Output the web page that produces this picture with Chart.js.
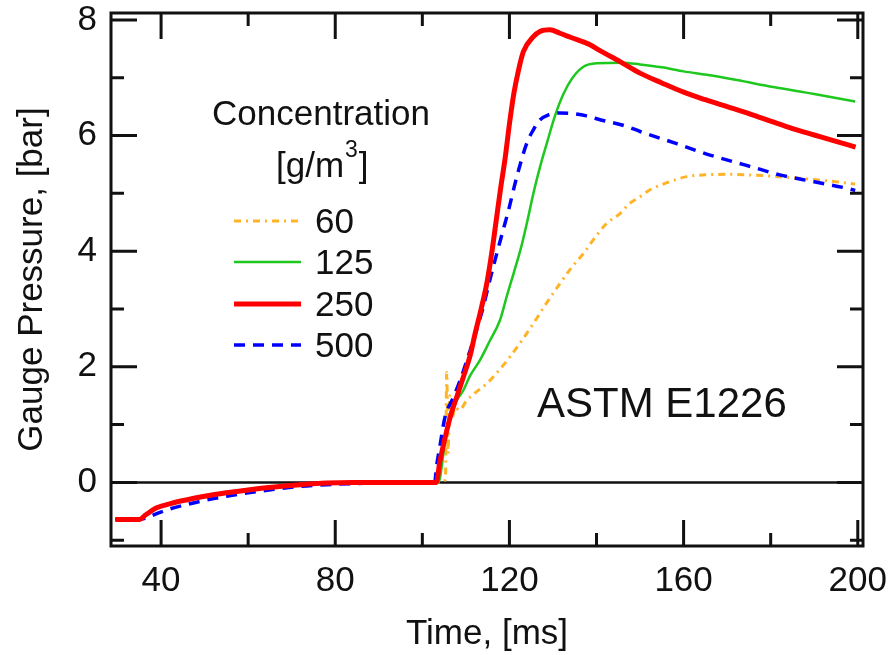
<!DOCTYPE html>
<html>
<head>
<meta charset="utf-8">
<script src="https://cdn.jsdelivr.net/npm/chart.js@4.4.1/dist/chart.umd.min.js"></script>
<style>
  html, body { margin: 0; padding: 0; background: #fff; }
</style>
</head>
<body>
<canvas id="myChart" width="890" height="655"></canvas>
<script>
// concentration labels, g/m3
const seriesNames = ["60", "125", "250", "500"];

// time [ms] and gauge pressure [bar]
const time60 = [29.5, 35, 36.5, 39, 42, 46, 50, 55, 60, 66, 72, 78, 84, 90, 96, 104, 105.3, 105.6, 105.9, 106.3, 106.8, 107.5, 108.5, 110.2, 112.5, 114.8, 117.5, 120.1, 122.8, 125.5, 128.5, 131.6, 134.3, 137, 139.5, 142.3, 145.4, 147.5, 150, 152, 154.6, 157.5, 160.7, 165, 170.7, 175, 179.9, 185, 189.8, 195, 199.4];
const press60 = [-0.63, -0.63, -0.55, -0.43, -0.36, -0.29, -0.23, -0.17, -0.12, -0.07, -0.03, -0.01, 0, 0, 0, 0, 0.05, 1.9, 0.5, 1.5, 1.1, 1.3, 1.25, 1.42, 1.57, 1.71, 1.93, 2.17, 2.45, 2.75, 3.1, 3.44, 3.72, 3.96, 4.22, 4.48, 4.65, 4.82, 4.94, 5.05, 5.14, 5.22, 5.29, 5.32, 5.33, 5.32, 5.3, 5.27, 5.24, 5.2, 5.16];

const time125 = [29.5, 35, 36.5, 39, 42, 46, 50, 55, 60, 66, 72, 78, 84, 90, 96, 103.8, 104.5, 105.5, 107, 109.4, 111, 113.2, 115.5, 117.8, 119.5, 120.9, 122.8, 124.2, 125.5, 127, 128.6, 130.5, 132.4, 134.5, 137, 140, 146, 150, 155, 160, 165.3, 172.2, 180.6, 190, 199.4];
const press125 = [-0.63, -0.63, -0.55, -0.43, -0.36, -0.29, -0.23, -0.17, -0.12, -0.07, -0.03, -0.01, 0, 0, 0, 0, 0.3, 0.9, 1.3, 1.59, 1.85, 2.11, 2.45, 2.8, 3.25, 3.6, 4.1, 4.55, 5.0, 5.45, 5.87, 6.35, 6.72, 7.0, 7.19, 7.25, 7.26, 7.23, 7.18, 7.11, 7.05, 6.96, 6.84, 6.72, 6.59];

const time250 = [29.5, 35, 36.5, 39, 42, 46, 50, 55, 60, 66, 72, 78, 84, 90, 96, 103.2, 104, 105, 106.4, 108, 109.4, 111, 112.1, 113.5, 114.8, 116, 117, 118, 119, 120, 121, 122, 123.2, 125.5, 127, 129.3, 131.6, 134, 138.5, 141, 145.4, 150, 155, 160, 165, 170, 175, 180, 185, 190, 195, 199.5];
const press250 = [-0.64, -0.64, -0.56, -0.44, -0.37, -0.3, -0.24, -0.18, -0.13, -0.08, -0.04, -0.01, 0, 0, 0, 0, 0.35, 0.7, 1.13, 1.5, 1.82, 2.2, 2.57, 3.0, 3.44, 4.0, 4.55, 5.1, 5.6, 6.2, 6.72, 7.1, 7.45, 7.71, 7.8, 7.83, 7.77, 7.7, 7.57, 7.46, 7.28, 7.08, 6.91, 6.75, 6.62, 6.5, 6.38, 6.25, 6.12, 6.01, 5.9, 5.8];

const time500 = [29.5, 35, 36.5, 39, 42, 46, 50, 55, 60, 66, 72, 78, 84, 90, 96, 102.8, 103.3, 104, 105.2, 107, 108.7, 111, 112.5, 114, 115.5, 117.1, 118.5, 119.8, 121.7, 124, 125.5, 127, 129, 131.6, 134.5, 137.7, 141, 146.9, 150, 158.4, 165.3, 169.9, 176, 182.1, 190, 197.4, 199.4];
const press500 = [-0.64, -0.64, -0.62, -0.54, -0.46, -0.38, -0.31, -0.24, -0.18, -0.12, -0.07, -0.04, -0.02, -0.01, -0.01, -0.01, 0.3, 0.61, 1.13, 1.45, 1.77, 2.29, 2.65, 3.04, 3.5, 3.96, 4.35, 4.71, 5.29, 5.87, 6.1, 6.27, 6.36, 6.39, 6.38, 6.34, 6.27, 6.16, 6.07, 5.86, 5.68, 5.58, 5.45, 5.32, 5.2, 5.09, 5.05];

// axis ticks
const xMajorTicks = [40, 80, 120, 160, 200];
const xMinorTicks = [60, 100, 140, 180];
const yMajorTicks = [0, 2, 4, 6, 8];
const yMinorTicks = [-1, 1, 3, 5, 7];

const FONT = "'Liberation Sans', Arial, sans-serif";
const INK = "#111";

const toPoints = (xs, ys) => xs.map((x, i) => ({ x: x, y: ys[i] }));

// drop the extra room Chart.js keeps for edge labels, the layout padding sets the plot box
const noEdgePadding = (scale) => {
    scale.paddingLeft = 0;
    scale.paddingRight = 0;
    scale.paddingTop = 0;
    scale.paddingBottom = 0;
};

// frame, inward ticks and the zero line
const framePlugin = {
    id: "frame",
    beforeDatasetsDraw(chart) {
        const { ctx, chartArea, scales } = chart;
        const y0 = scales.y.getPixelForValue(0);
        ctx.save();
        ctx.strokeStyle = INK;
        ctx.lineWidth = 2.5;
        ctx.beginPath();
        ctx.moveTo(chartArea.left, y0);
        ctx.lineTo(chartArea.right, y0);
        ctx.stroke();
        ctx.restore();
    },
    afterDatasetsDraw(chart) {
        const { ctx, chartArea, scales } = chart;
        const { left, right, top, bottom } = chartArea;
        ctx.save();
        ctx.strokeStyle = INK;
        ctx.lineWidth = 3;
        ctx.strokeRect(left, top, right - left, bottom - top);

        const tick = (vals, len, isX) => {
            vals.forEach((v) => {
                ctx.beginPath();
                if (isX) {
                    const px = scales.x.getPixelForValue(v);
                    ctx.moveTo(px, bottom); ctx.lineTo(px, bottom - len);
                    ctx.moveTo(px, top); ctx.lineTo(px, top + len);
                } else {
                    const py = scales.y.getPixelForValue(v);
                    ctx.moveTo(left, py); ctx.lineTo(left + len, py);
                    ctx.moveTo(right, py); ctx.lineTo(right - len, py);
                }
                ctx.stroke();
            });
        };
        tick(xMajorTicks, 26, true);
        tick(xMinorTicks, 13, true);
        tick(yMajorTicks, 26, false);
        tick(yMinorTicks, 13, false);
        ctx.restore();
    },
    afterDraw(chart) {
        const { ctx } = chart;
        ctx.save();
        ctx.fillStyle = INK;
        ctx.textBaseline = "alphabetic";

        // legend block
        ctx.font = "35px " + FONT;
        ctx.textAlign = "center";
        ctx.fillText("Concentration", 321, 125);
        ctx.textAlign = "left";
        ctx.fillText("[g/m", 276, 177);
        const w1 = ctx.measureText("[g/m").width;
        ctx.font = "23px " + FONT;
        ctx.fillText("3", 276 + w1 + 1, 157);
        const w2 = ctx.measureText("3").width;
        ctx.font = "35px " + FONT;
        ctx.fillText("]", 276 + w1 + w2 + 2, 177);

        const rowY = [221, 262, 304, 345];
        chart.data.datasets.forEach((ds, i) => {
            ctx.save();
            ctx.strokeStyle = ds.borderColor;
            ctx.lineWidth = ds.borderWidth;
            ctx.setLineDash(ds.borderDash || []);
            ctx.beginPath();
            ctx.moveTo(234, rowY[i]);
            ctx.lineTo(301, rowY[i]);
            ctx.stroke();
            ctx.restore();
            ctx.font = "35px " + FONT;
            ctx.fillText(ds.label, 315, rowY[i] + 12);
        });

        ctx.font = "42px " + FONT;
        ctx.fillText("ASTM E1226", 537, 417);
        ctx.restore();
    },
};

const ctx = document.getElementById("myChart").getContext("2d");
const myChart = new Chart(ctx, {
    type: "line",
    data: {
        datasets: [{
            label: seriesNames[0],
            data: toPoints(time60, press60),
            borderColor: "#ffb326",
            borderWidth: 3,
            borderDash: [7, 5, 2, 5],
            order: 3,
        }, {
            label: seriesNames[1],
            data: toPoints(time125, press125),
            borderColor: "#1ec81e",
            borderWidth: 2.5,
            order: 2,
        }, {
            label: seriesNames[2],
            data: toPoints(time250, press250),
            borderColor: "#ff0000",
            borderWidth: 5,
            order: 0,
        }, {
            label: seriesNames[3],
            data: toPoints(time500, press500),
            borderColor: "#0000ff",
            borderWidth: 3.5,
            borderDash: [11, 8],
            order: 1,
        }, ],
    },
    options: {
        responsive: false,
        animation: false,
        devicePixelRatio: 1,
        elements: {
            point: { radius: 0 },
            line: { cubicInterpolationMode: "monotone", borderJoinStyle: "round", borderCapStyle: "butt" },
        },
        layout: { padding: { left: 0, right: 27, top: 13, bottom: 0 } },
        plugins: {
            legend: { display: false },
            tooltip: { enabled: false },
        },
        scales: {
            x: {
                type: "linear",
                min: 28.5,
                max: 201.2,
                grid: { display: false, drawTicks: false },
                border: { display: false },
                afterBuildTicks: (scale) => {
                    scale.ticks = xMajorTicks.map((v) => ({ value: v }));
                },
                afterFit: (scale) => {
                    scale.height = 109;
                    noEdgePadding(scale);
                },
                ticks: {
                    color: INK,
                    font: { family: FONT, size: 35, lineHeight: 1 },
                    padding: 18,
                    maxRotation: 0,
                    autoSkip: false,
                },
                title: {
                    display: true,
                    text: "Time, [ms]",
                    color: INK,
                    font: { family: FONT, size: 35, lineHeight: 1.2 },
                    padding: { top: 0, bottom: 0 },
                },
            },
            y: {
                min: -1.1,
                max: 8.12,
                grid: { display: false, drawTicks: false },
                border: { display: false },
                afterBuildTicks: (scale) => {
                    scale.ticks = yMajorTicks.map((v) => ({ value: v }));
                },
                afterFit: (scale) => {
                    scale.width = 111;
                    noEdgePadding(scale);
                },
                ticks: {
                    color: INK,
                    font: { family: FONT, size: 35, lineHeight: 1 },
                    padding: 14,
                },
                title: {
                    display: true,
                    text: "Gauge Pressure, [bar]",
                    color: INK,
                    font: { family: FONT, size: 35, lineHeight: 1.2 },
                    padding: { top: 11, bottom: 0 },
                },
            },
        },
    },
    plugins: [framePlugin],
});
</script>
</body>
</html>
